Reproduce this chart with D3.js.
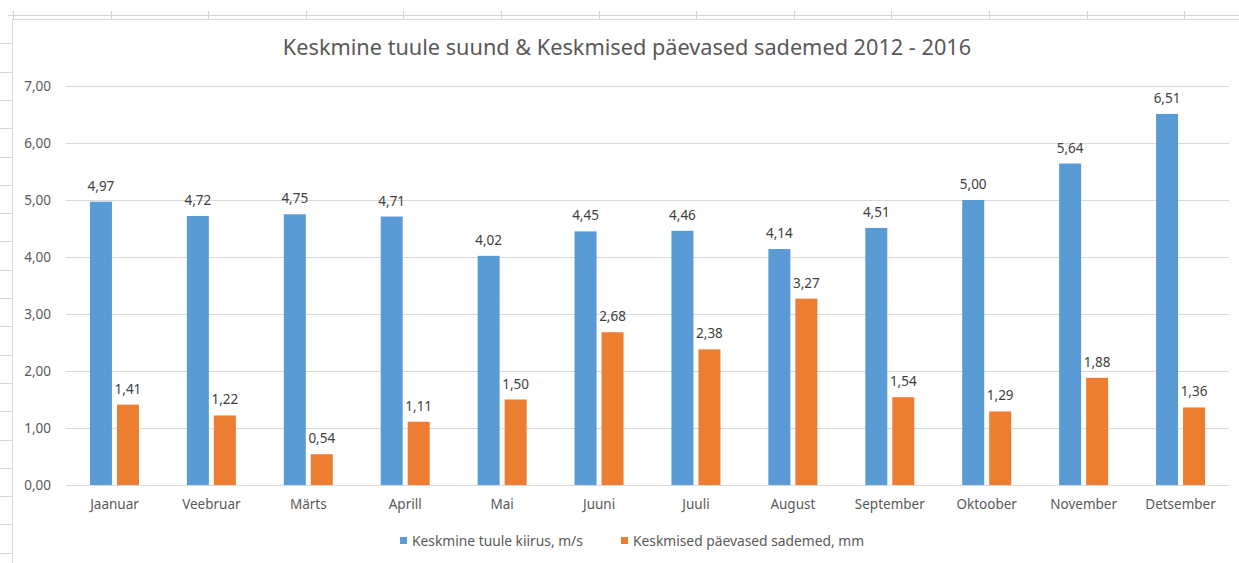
<!DOCTYPE html>
<html><head><meta charset="utf-8">
<script src="https://cdn.jsdelivr.net/npm/d3@7"></script>
<style>
html,body{margin:0;padding:0;background:#fff;}
svg{display:block;font-family:"Noto Sans","Open Sans",sans-serif;}
</style></head>
<body>
<svg id="c" width="1239" height="563"></svg>
<script>
const categories = ["Jaanuar","Veebruar","Märts","Aprill","Mai","Juuni","Juuli","August","September","Oktoober","November","Detsember"];
const windSpeed = [4.97,4.72,4.75,4.71,4.02,4.45,4.46,4.14,4.51,5.00,5.64,6.51];
const precipitation = [1.41,1.22,0.54,1.11,1.50,2.68,2.38,3.27,1.54,1.29,1.88,1.36];
const seriesNames = ["Keskmine tuule kiirus, m/s","Keskmised päevased sademed, mm"];
const yTicks = [0,1,2,3,4,5,6,7];
const title = "Keskmine tuule suund & Keskmised päevased sademed 2012 - 2016";
const colors = ["#5b9bd5","#ed7d31"];

(function(){
const svg = d3.select("#c");
const fmt = v => d3.format(".2f")(v).replace(".", ",");

// spreadsheet background
const bg = svg.append("g");
bg.append("line").attr("x1",8).attr("x2",1239).attr("y1",15.5).attr("y2",15.5).attr("stroke","#d4d4d4");
d3.range(13).forEach(i=>{
  const xx = Math.round(13 + i*97.6)+0.5;
  bg.append("line").attr("x1",xx).attr("x2",xx).attr("y1",11).attr("y2",19).attr("stroke","#d4d4d4");
});
d3.range(19).forEach(i=>{
  const yy = Math.round(43.3 + i*28.3)+0.5;
  bg.append("line").attr("x1",0).attr("x2",12).attr("y1",yy).attr("y2",yy).attr("stroke","#d4d4d4");
});
// chart frame
svg.append("rect").attr("x",12.5).attr("y",19.5).attr("width",1240).attr("height",560)
  .attr("fill","#fff").attr("stroke","#d9d9d9");

const pL = 66, pR = 1229, pT = 86, pB = 485;
const x = d3.scaleBand().domain(categories).range([pL,pR]).paddingInner(0).paddingOuter(0);
const y = d3.scaleLinear().domain([0,7]).range([pB,pT]);
const bw = 22, gap = 5;
const fs = "13.5px";

// gridlines
svg.append("g").selectAll("line").data(yTicks).join("line")
  .attr("x1",pL).attr("x2",pR)
  .attr("y1",d=>Math.round(y(d))+0.5).attr("y2",d=>Math.round(y(d))+0.5)
  .attr("stroke","#d9d9d9");

// y axis labels
const yAxis = d3.axisLeft(y).tickValues(yTicks).tickFormat(fmt).tickSize(0).tickPadding(15);
const ya = svg.append("g").attr("transform",`translate(${pL},0)`).call(yAxis);
ya.select(".domain").remove();
ya.selectAll("text").attr("fill","#595959").style("font-size",fs).style("font-family","'Noto Sans',sans-serif");

// x axis labels
const xAxis = d3.axisBottom(x).tickSize(0).tickPadding(14);
const xa = svg.append("g").attr("transform",`translate(0,${pB})`).call(xAxis);
xa.select(".domain").remove();
xa.selectAll("text").attr("fill","#595959").style("font-size",fs).style("font-family","'Noto Sans',sans-serif");

const series = [windSpeed, precipitation];
series.forEach((vals,si)=>{
  const off = si===0 ? -gap/2 - bw : gap/2;
  const g = svg.append("g");
  g.selectAll("rect").data(vals).join("rect")
    .attr("x",(d,i)=>x(categories[i]) + x.bandwidth()/2 + off)
    .attr("width",bw)
    .attr("y",d=>y(d)).attr("height",d=>y(0)-y(d))
    .attr("fill",colors[si]);
  g.selectAll("text").data(vals).join("text")
    .attr("x",(d,i)=>x(categories[i]) + x.bandwidth()/2 + off + bw/2)
    .attr("y",d=>y(d)-11)
    .attr("text-anchor","middle")
    .attr("fill","#404040").style("font-size",fs)
    .text(fmt);
});

// title
svg.append("text").attr("x",627).attr("y",55).attr("text-anchor","middle")
  .attr("fill","#595959").style("font-size","21.7px").text(title);

// legend
const legX = [400,621];
seriesNames.forEach((n,i)=>{
  svg.append("rect").attr("x",legX[i]).attr("y",537).attr("width",7).attr("height",7).attr("fill",colors[i]);
  svg.append("text").attr("x",legX[i]+12).attr("y",545.5).attr("fill","#595959").style("font-size","13.8px").text(n);
});
})();
</script>
</body></html>
